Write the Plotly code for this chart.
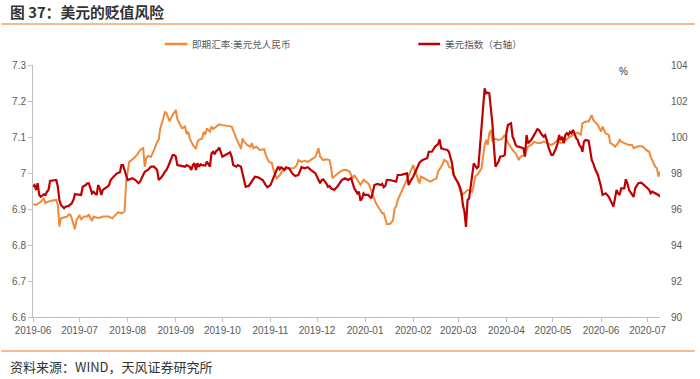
import plotly.graph_objects as go

# ---------------- data ----------------
cny_dates = ["2019-06-01","2019-06-03","2019-06-06","2019-06-08","2019-06-09","2019-06-10","2019-06-12","2019-06-16","2019-06-17","2019-06-18",
"2019-06-19","2019-06-21","2019-06-23","2019-06-24","2019-06-25","2019-06-26","2019-06-28","2019-06-29","2019-07-01","2019-07-02",
"2019-07-04","2019-07-06","2019-07-07","2019-07-08","2019-07-09","2019-07-10","2019-07-12","2019-07-14","2019-07-16","2019-07-20",
"2019-07-22","2019-07-24","2019-07-26","2019-07-28","2019-07-30","2019-07-31","2019-08-02","2019-08-05","2019-08-07","2019-08-09",
"2019-08-11","2019-08-12","2019-08-13","2019-08-14","2019-08-16","2019-08-18","2019-08-20","2019-08-21","2019-08-22","2019-08-24",
"2019-08-25","2019-08-26","2019-08-28","2019-08-30","2019-09-01","2019-09-02","2019-09-04","2019-09-05","2019-09-07","2019-09-08",
"2019-09-09","2019-09-10","2019-09-12","2019-09-14","2019-09-15","2019-09-16","2019-09-18","2019-09-19","2019-09-20","2019-09-21",
"2019-09-23","2019-09-24","2019-09-25","2019-09-27","2019-09-29","2019-10-01","2019-10-04","2019-10-07","2019-10-10","2019-10-12",
"2019-10-13","2019-10-14","2019-10-15","2019-10-17","2019-10-19","2019-10-20","2019-10-21","2019-10-23","2019-10-25","2019-10-28",
"2019-10-29","2019-10-31","2019-11-02","2019-11-03","2019-11-04","2019-11-05","2019-11-07","2019-11-09","2019-11-12","2019-11-14",
"2019-11-16","2019-11-18","2019-11-19","2019-11-21","2019-11-23","2019-11-25","2019-11-27","2019-11-30","2019-12-02","2019-12-03",
"2019-12-05","2019-12-07","2019-12-09","2019-12-10","2019-12-11","2019-12-13","2019-12-16","2019-12-18","2019-12-20","2019-12-22",
"2019-12-24","2019-12-25","2019-12-27","2019-12-29","2019-12-31","2020-01-03","2020-01-04","2020-01-06","2020-01-08","2020-01-10",
"2020-01-12","2020-01-13","2020-01-14","2020-01-15","2020-01-17","2020-01-19","2020-01-20","2020-01-21","2020-01-22","2020-01-24",
"2020-01-26","2020-01-28","2020-01-30","2020-02-01","2020-02-02","2020-02-05","2020-02-06","2020-02-08","2020-02-10","2020-02-12",
"2020-02-14","2020-02-16","2020-02-17","2020-02-19","2020-02-21","2020-02-23","2020-02-24","2020-02-26","2020-02-28","2020-03-01",
"2020-03-02","2020-03-03","2020-03-05","2020-03-07","2020-03-10","2020-03-12","2020-03-14","2020-03-16","2020-03-17","2020-03-18",
"2020-03-19","2020-03-20","2020-03-21","2020-03-22","2020-03-23","2020-03-24","2020-03-27","2020-03-29","2020-03-31","2020-04-01",
"2020-04-03","2020-04-05","2020-04-07","2020-04-08","2020-04-09","2020-04-10","2020-04-13","2020-04-14","2020-04-15","2020-04-17",
"2020-04-19","2020-04-21","2020-04-23","2020-04-25","2020-04-27","2020-04-30","2020-05-02","2020-05-04","2020-05-06","2020-05-08",
"2020-05-10","2020-05-12","2020-05-14","2020-05-17","2020-05-19","2020-05-20","2020-05-22","2020-05-24","2020-05-25","2020-05-26",
"2020-05-27","2020-05-29","2020-05-30","2020-06-01","2020-06-02","2020-06-04","2020-06-06","2020-06-07","2020-06-09","2020-06-10",
"2020-06-12","2020-06-13","2020-06-14","2020-06-16","2020-06-19","2020-06-21","2020-06-22","2020-06-24","2020-06-26","2020-06-28",
"2020-06-29","2020-06-30","2020-07-02","2020-07-03","2020-07-06","2020-07-07","2020-07-08","2020-07-09"]
cny_values = [6.913,6.911,6.920,6.930,6.916,6.919,6.922,6.925,6.911,6.851,
6.874,6.876,6.879,6.885,6.885,6.874,6.844,6.869,6.883,6.872,
6.879,6.879,6.885,6.874,6.867,6.879,6.876,6.876,6.879,6.879,
6.874,6.883,6.891,6.888,6.893,6.976,7.031,7.041,7.050,7.064,
7.069,7.017,7.041,7.047,7.045,7.064,7.087,7.092,7.124,7.152,
7.169,7.166,7.144,7.161,7.175,7.150,7.129,7.124,7.129,7.108,
7.115,7.096,7.078,7.067,7.087,7.092,7.096,7.115,7.106,7.124,
7.115,7.129,7.122,7.129,7.135,7.133,7.131,7.129,7.096,7.073,
7.067,7.096,7.087,7.078,7.073,7.083,7.069,7.073,7.064,7.066,
7.050,7.031,7.027,7.008,6.994,6.985,6.994,7.008,7.013,7.013,
7.013,7.022,7.036,7.031,7.034,7.031,7.036,7.045,7.069,7.045,
7.036,7.038,7.036,7.017,6.985,6.994,7.004,7.008,7.008,7.004,
6.985,6.994,6.981,6.967,6.981,6.971,6.962,6.939,6.916,6.902,
6.888,6.888,6.869,6.858,6.858,6.869,6.902,6.906,6.925,6.944,
6.962,6.981,6.999,7.022,7.008,6.971,6.990,6.985,6.981,6.976,
6.981,6.985,7.004,7.017,7.036,7.031,7.017,7.013,6.985,6.971,
6.953,6.939,6.944,6.953,6.948,6.990,6.999,7.013,7.045,7.078,
7.092,7.078,7.110,7.119,7.087,7.096,7.092,7.094,7.106,7.092,
7.078,7.064,7.055,7.045,7.036,7.045,7.050,7.064,7.073,7.078,
7.087,7.083,7.083,7.087,7.083,7.078,7.083,7.092,7.083,7.087,
7.094,7.101,7.106,7.112,7.106,7.138,7.143,7.143,7.152,7.161,
7.147,7.138,7.133,7.115,7.129,7.110,7.106,7.083,7.078,7.073,
7.083,7.092,7.087,7.083,7.078,7.078,7.069,7.073,7.075,7.073,
7.069,7.064,7.059,7.045,7.017,7.013,6.990,7.004]

dxy_dates = ["2019-06-01","2019-06-02","2019-06-03","2019-06-04","2019-06-05","2019-06-06","2019-06-08","2019-06-09","2019-06-10","2019-06-11",
"2019-06-12","2019-06-15","2019-06-16","2019-06-17","2019-06-18","2019-06-19","2019-06-21","2019-06-22","2019-06-24","2019-06-26",
"2019-06-27","2019-06-28","2019-07-01","2019-07-02","2019-07-03","2019-07-05","2019-07-06","2019-07-07","2019-07-08","2019-07-09",
"2019-07-10","2019-07-12","2019-07-13","2019-07-14","2019-07-15","2019-07-16","2019-07-19","2019-07-20","2019-07-21","2019-07-23",
"2019-07-25","2019-07-27","2019-07-28","2019-07-29","2019-07-30","2019-08-01","2019-08-04","2019-08-06","2019-08-08","2019-08-09",
"2019-08-11","2019-08-12","2019-08-14","2019-08-16","2019-08-18","2019-08-20","2019-08-21","2019-08-23","2019-08-25","2019-08-26",
"2019-08-27","2019-08-29","2019-08-30","2019-08-31","2019-09-01","2019-09-02","2019-09-04","2019-09-07","2019-09-08","2019-09-10",
"2019-09-11","2019-09-12","2019-09-13","2019-09-14","2019-09-15","2019-09-16","2019-09-17","2019-09-18","2019-09-20","2019-09-21",
"2019-09-23","2019-09-24","2019-09-25","2019-09-26","2019-09-27","2019-09-28","2019-09-29","2019-09-30","2019-10-01","2019-10-03",
"2019-10-05","2019-10-06","2019-10-07","2019-10-08","2019-10-10","2019-10-11","2019-10-13","2019-10-14","2019-10-15","2019-10-16",
"2019-10-18","2019-10-20","2019-10-22","2019-10-24","2019-10-27","2019-10-29","2019-10-30","2019-11-01","2019-11-03","2019-11-05",
"2019-11-06","2019-11-07","2019-11-08","2019-11-10","2019-11-11","2019-11-13","2019-11-15","2019-11-17","2019-11-19","2019-11-21",
"2019-11-23","2019-11-25","2019-11-27","2019-11-30","2019-12-02","2019-12-03","2019-12-04","2019-12-05","2019-12-07","2019-12-08",
"2019-12-09","2019-12-10","2019-12-12","2019-12-14","2019-12-17","2019-12-19","2019-12-21","2019-12-23","2019-12-24","2019-12-25",
"2019-12-27","2019-12-28","2019-12-29","2019-12-30","2019-12-31","2020-01-01","2020-01-03","2020-01-04","2020-01-05","2020-01-06",
"2020-01-07","2020-01-09","2020-01-11","2020-01-12","2020-01-13","2020-01-14","2020-01-15","2020-01-17","2020-01-20","2020-01-21",
"2020-01-22","2020-01-24","2020-01-26","2020-01-28","2020-01-29","2020-01-30","2020-02-01","2020-02-03","2020-02-05","2020-02-07",
"2020-02-09","2020-02-10","2020-02-11","2020-02-13","2020-02-15","2020-02-17","2020-02-18","2020-02-19","2020-02-21","2020-02-23",
"2020-02-24","2020-02-25","2020-02-26","2020-02-27","2020-02-29","2020-03-01","2020-03-02","2020-03-03","2020-03-04","2020-03-05",
"2020-03-06","2020-03-07","2020-03-08","2020-03-09","2020-03-10","2020-03-11","2020-03-13","2020-03-14","2020-03-15","2020-03-16",
"2020-03-17","2020-03-18","2020-03-19","2020-03-20","2020-03-21","2020-03-22","2020-03-23","2020-03-24","2020-03-25","2020-03-27",
"2020-03-28","2020-03-30","2020-03-31","2020-04-01","2020-04-02","2020-04-04","2020-04-05","2020-04-06","2020-04-07","2020-04-08",
"2020-04-09","2020-04-12","2020-04-13","2020-04-14","2020-04-15","2020-04-16","2020-04-17","2020-04-18","2020-04-19","2020-04-20",
"2020-04-21","2020-04-22","2020-04-23","2020-04-24","2020-04-25","2020-04-26","2020-04-27","2020-04-28","2020-04-30","2020-05-01",
"2020-05-03","2020-05-04","2020-05-05","2020-05-06","2020-05-07","2020-05-08","2020-05-09","2020-05-10","2020-05-11","2020-05-12",
"2020-05-13","2020-05-14","2020-05-16","2020-05-17","2020-05-18","2020-05-19","2020-05-20","2020-05-21","2020-05-22","2020-05-24",
"2020-05-25","2020-05-26","2020-05-27","2020-05-28","2020-05-30","2020-05-31","2020-06-01","2020-06-02","2020-06-04","2020-06-05",
"2020-06-06","2020-06-07","2020-06-08","2020-06-09","2020-06-10","2020-06-11","2020-06-12","2020-06-13","2020-06-14","2020-06-16",
"2020-06-17","2020-06-18","2020-06-19","2020-06-21","2020-06-22","2020-06-23","2020-06-24","2020-06-25","2020-06-27","2020-06-29",
"2020-07-01","2020-07-02","2020-07-03","2020-07-04","2020-07-06","2020-07-08","2020-07-09"]
dxy_values = [97.24,97.33,97.06,97.43,96.78,96.68,96.82,96.78,96.96,97.06,
97.56,97.57,97.61,97.24,96.50,96.22,96.04,96.13,96.17,96.32,
96.50,96.82,96.82,96.78,97.24,97.33,97.43,97.43,97.15,96.87,
96.96,96.78,97.33,97.15,96.78,97.06,97.24,97.33,97.61,97.79,
97.98,98.04,98.44,98.44,98.17,97.61,97.71,97.61,97.43,97.52,
97.89,98.07,98.17,98.35,98.35,98.17,97.61,97.79,98.07,98.17,
98.35,98.82,99.00,99.00,98.91,98.44,98.41,98.35,98.44,98.35,
98.17,98.44,98.54,98.17,98.54,98.35,98.48,98.44,98.41,98.63,
98.35,99.09,99.18,99.04,99.22,99.28,99.41,99.09,98.91,99.00,
99.09,99.15,98.91,98.44,98.35,98.44,98.35,98.00,97.61,97.24,
97.28,97.52,97.79,97.76,97.61,97.33,97.21,97.33,97.79,98.17,
98.35,98.21,98.32,98.17,98.32,98.26,97.98,97.83,97.89,98.32,
98.26,98.32,98.17,97.98,97.61,97.43,97.61,97.65,97.43,97.24,
97.28,97.15,97.06,97.24,97.61,97.71,97.61,97.71,97.43,97.15,
96.87,96.96,96.46,96.59,96.87,96.78,96.78,96.68,96.59,96.96,
97.33,97.39,97.33,97.39,97.21,97.28,97.61,97.61,97.52,97.52,
97.89,97.89,97.94,97.98,97.33,97.52,97.79,98.21,98.57,98.72,
98.76,98.82,99.18,99.18,99.46,99.61,99.87,99.37,99.32,99.28,
99.18,98.78,98.54,97.89,97.61,97.43,97.24,96.96,96.22,95.85,
95.00,96.50,96.59,97.24,98.07,98.54,98.26,98.35,99.46,100.57,
101.68,102.71,102.43,102.46,102.43,101.68,100.76,99.46,98.35,98.63,
98.91,98.94,99.00,100.21,100.67,100.76,100.02,99.83,99.56,99.46,
99.46,99.37,98.91,100.11,99.65,99.74,99.83,99.98,100.11,100.29,
100.43,100.39,100.21,100.11,100.02,100.11,99.83,99.46,99.00,99.00,
99.37,99.65,100.11,99.83,100.02,99.65,100.11,100.21,100.11,100.29,
100.21,100.39,99.93,99.83,99.56,99.46,99.18,99.74,99.83,99.79,
99.28,98.72,98.54,98.26,97.89,97.61,97.24,96.78,96.87,96.78,
96.68,96.50,96.32,96.13,96.59,97.06,96.87,96.78,97.15,97.15,
97.65,97.43,97.06,96.78,96.68,97.15,97.33,97.43,97.46,97.33,
97.15,97.06,96.87,96.96,96.87,96.78,96.68]

series_names = ["即期汇率:美元兑人民币", "美元指数（右轴）"]
left_ticks = [6.6, 6.7, 6.8, 6.9, 7.0, 7.1, 7.2, 7.3]
right_ticks = [90, 92, 94, 96, 98, 100, 102, 104]
title_text = "图 37：美元的贬值风险"
source_text = "资料来源：WIND，天风证券研究所"

# ---------------- figure ----------------
W, H = 700, 379
ML, MR, MT, MB = 32, 35, 65, 62
PW, PH = W - ML - MR, H - MT - MB

def px(x):
    return (x - ML) / PW

def py(y):
    return (H - MB - y) / PH

ORANGE = "#F08A3A"
RED = "#C00000"
GRAY = "#595959"
FONT = "Liberation Sans, Noto Sans CJK SC, sans-serif"
CJK = "Noto Sans CJK SC, sans-serif"

fig = go.Figure()
fig.add_trace(go.Scatter(x=cny_dates, y=cny_values, name=series_names[0], mode="lines",
                         line=dict(color=ORANGE, width=2), yaxis="y", showlegend=False))
fig.add_trace(go.Scatter(x=dxy_dates, y=dxy_values, name=series_names[1], mode="lines",
                         line=dict(color=RED, width=2.2), yaxis="y2", showlegend=False))

fig.update_layout(
    width=W, height=H,
    margin=dict(l=ML, r=MR, t=MT, b=MB),
    paper_bgcolor="white", plot_bgcolor="white",
    font=dict(family=FONT, size=10, color=GRAY),
    showlegend=False,
    xaxis=dict(type="date", range=["2019-06-01", "2020-07-09"], tick0="2019-06-01", dtick="M1",
               tickformat="%Y-%m", showgrid=False, showline=True, linecolor="#BFBFBF", linewidth=1,
               ticks="outside", ticklen=4, tickcolor="#BFBFBF", zeroline=False,
               tickfont=dict(size=10, color=GRAY)),
    yaxis=dict(range=[6.6, 7.3], tickvals=left_ticks, showgrid=False, showline=True,
               linecolor="#BFBFBF", linewidth=1, ticks="outside", ticklen=4, tickcolor="#BFBFBF",
               zeroline=False, tickfont=dict(size=10, color=GRAY)),
    yaxis2=dict(range=[90, 104], tickvals=right_ticks, overlaying="y", side="right",
                showgrid=False, showline=False, ticks="", zeroline=False,
                ticklabelstandoff=10, tickfont=dict(size=10, color=GRAY)),
)

# header / footer rules
fig.add_shape(type="line", xref="paper", yref="paper", x0=px(0), x1=px(W), y0=py(24), y1=py(24),
              line=dict(color="#F4A56A", width=1.5))
fig.add_shape(type="line", xref="paper", yref="paper", x0=px(0), x1=px(W), y0=py(351), y1=py(351),
              line=dict(color="#F4A56A", width=1.5))

# legend (drawn by hand to match spacing)
legend_items = [(165, 188, 190, ORANGE, series_names[0]), (421, 443, 446, RED, series_names[1])]
for x0, x1, xt, col, name in legend_items:
    fig.add_shape(type="line", xref="paper", yref="paper", x0=px(x0), x1=px(x1), y0=py(44), y1=py(44),
                  line=dict(color=col, width=2.5))
    fig.add_annotation(text=name, xref="paper", yref="paper", x=px(xt), y=py(44),
                       xanchor="left", yanchor="middle", showarrow=False,
                       font=dict(size=9.6, color=GRAY, family=CJK))

fig.add_annotation(text="<b>" + title_text + "</b>", xref="paper", yref="paper", x=px(7), y=py(11),
                   xanchor="left", yanchor="middle", showarrow=False,
                   font=dict(size=14.8, color="#333333", family=CJK))
fig.add_annotation(text=source_text, xref="paper", yref="paper", x=px(7), y=py(366),
                   xanchor="left", yanchor="middle", showarrow=False,
                   font=dict(size=13, color="#333333", family=CJK))
fig.add_annotation(text="%", xref="paper", yref="paper", x=px(628), y=py(71),
                   xanchor="center", yanchor="middle", showarrow=False,
                   font=dict(size=10, color="#333333"))

fig.write_html("out.html", config={"displayModeBar": False},
               post_script="document.body.style.margin='0';")
